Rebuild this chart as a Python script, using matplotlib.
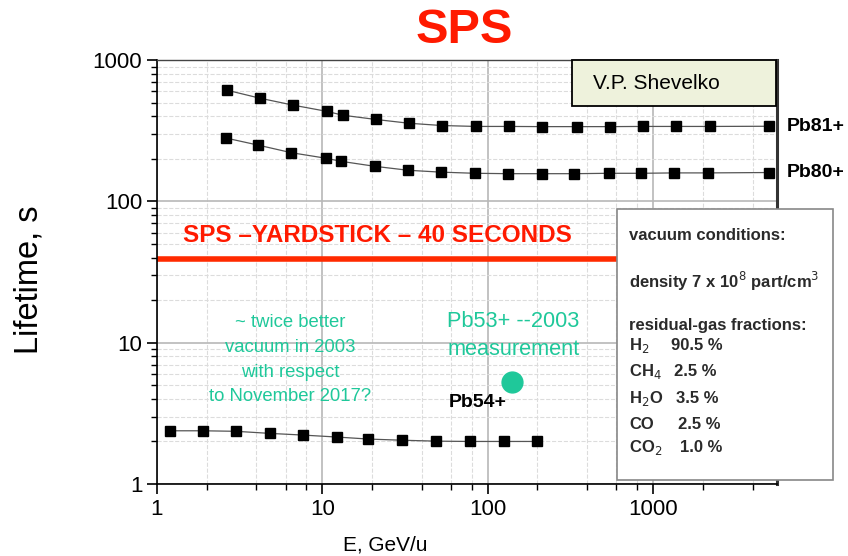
import numpy as np
import matplotlib
matplotlib.use("Agg")
import matplotlib.pyplot as plt
from matplotlib.patches import Rectangle
from matplotlib.ticker import LogLocator, FixedLocator, NullFormatter

plt.rcParams['font.family'] = ['Liberation Sans', 'DejaVu Sans']

# energies, GeV/u
E_pb81 = [2.65, 4.2, 6.7, 10.7, 13.3, 21, 33.5, 53, 85, 134, 214, 345, 550, 865, 1370, 2200, 5050]
E_pb80 = [2.6, 4.1, 6.5, 10.5, 13.0, 20.8, 33, 52, 84, 133, 212, 335, 540, 850, 1340, 2160, 5050]
E_pb54 = [1.2, 1.9, 3.0, 4.85, 7.6, 12.2, 19, 30.5, 49, 78, 125, 198]

# lifetimes, s
tau_pb81 = [612, 537, 479, 433, 407, 380, 357, 344, 339, 339, 338, 338, 338, 339, 339, 339, 340]
tau_pb80 = [281, 250, 221, 202, 192, 177, 166, 161, 158, 157, 157, 157, 158, 158, 159, 159, 160]
tau_pb54 = [2.38, 2.38, 2.36, 2.28, 2.22, 2.15, 2.08, 2.04, 2.01, 2.0, 2.0, 2.0]

# Pb53+ 2003 measurement
E_meas = 141
tau_meas = 5.3

yardstick = 39

gases = ['H$_{2}$', 'CH$_{4}$', 'H$_{2}$O', 'CO', 'CO$_{2}$']
fractions = ['90.5 %', '2.5 %', '3.5 %', '2.5 %', '1.0 %']

green = '#1fc89a'

fig = plt.figure(figsize=(8.48, 5.56), dpi=100)
ax = fig.add_axes([0.185, 0.1295, 0.731, 0.7625])
ax.set_xscale('log')
ax.set_yscale('log')
ax.set_xlim(1, 5600)
ax.set_ylim(1, 1000)

ax.grid(True, which='major', color='#b8b8b8', lw=1.2, ls='-')
ax.grid(True, which='minor', color='#dcdcdc', lw=0.8, ls='--')
ax.set_axisbelow(True)

for E, tau in [(E_pb81, tau_pb81), (E_pb80, tau_pb80), (E_pb54, tau_pb54)]:
    ax.plot(E, tau, color='#555555', lw=0.9, marker='s', ms=7,
            mfc='black', mec='black', zorder=3)

ax.axhline(yardstick, color='#ff2a00', lw=4, zorder=2)
ax.text(0.355, 0.585, 'SPS \u2013YARDSTICK \u2013 40 SECONDS', transform=ax.transAxes,
        color='#ff1a00', fontsize=17.5, fontweight='bold', ha='center', va='center')

ax.plot([E_meas], [tau_meas], 'o', ms=15, color=green, zorder=4)

ax.xaxis.set_major_locator(FixedLocator([1, 10, 100, 1000]))
ax.xaxis.set_minor_locator(LogLocator(base=10, subs=(2, 4, 6, 8)))
ax.xaxis.set_minor_formatter(NullFormatter())
ax.yaxis.set_minor_locator(LogLocator(base=10, subs=np.arange(2, 10)))
ax.yaxis.set_minor_formatter(NullFormatter())
ax.set_xticklabels(['1', '10', '100', '1000'])
ax.set_yticks([1, 10, 100, 1000])
ax.set_yticklabels(['1', '10', '100', '1000'])
ax.tick_params(which='major', direction='out', length=7, width=1.2, labelsize=16)
ax.tick_params(which='minor', direction='out', length=4, width=1)

for s in ['left', 'bottom']:
    ax.spines[s].set_linewidth(1.2)
ax.spines['top'].set_linewidth(1.0)
ax.spines['top'].set_color('#444444')
ax.spines['right'].set_linewidth(2.2)
ax.spines['right'].set_color('#333333')

fig.text(385 / 848, 1 - 545 / 556, 'E, GeV/u', fontsize=15, ha='center', va='center')
fig.text(29 / 848, 1 - 280 / 556, 'Lifetime, s', fontsize=23.5, rotation=90,
         ha='center', va='center')

fig.text(0.548, 0.945, 'SPS', color='#ff1a00', fontsize=35, fontweight='bold',
         ha='center', va='center')

# author box
fig.patches.append(Rectangle((0.675, 0.81), 0.240, 0.082, transform=fig.transFigure,
                             fc='#eef2dc', ec='black', lw=1.3, zorder=3))
fig.text(0.699, 0.849, 'V.P. Shevelko', fontsize=15, va='center', zorder=4)

fig.text(0.928, 0.772, 'Pb81+', fontsize=14, fontweight='bold', va='center')
fig.text(0.928, 0.69, 'Pb80+', fontsize=14, fontweight='bold', va='center')
ax.text(87, 3.8, 'Pb54+', fontsize=14, fontweight='bold', ha='center', va='center')

ax.text(0.215, 0.293, '~ twice better\nvacuum in 2003\nwith respect\nto November 2017?',
        transform=ax.transAxes, color=green, fontsize=13.3, ha='center', va='center',
        linespacing=1.6)
ax.text(0.575, 0.35, 'Pb53+ --2003\nmeasurement', transform=ax.transAxes,
        color=green, fontsize=15.7, ha='center', va='center', linespacing=1.45)

# vacuum conditions box
fig.patches.append(Rectangle((0.728, 0.137), 0.254, 0.487, transform=fig.transFigure,
                             fc='white', ec='#888888', lw=1.2, zorder=3))
box_kw = dict(fontsize=12, fontweight='bold', color='#2a2a2a', va='center', zorder=4)
fig.text(629 / 848, 0.577, 'vacuum conditions:', **box_kw)
fig.text(629 / 848, 0.493, r'density 7 x 10$^{8}$ part/cm$^{3}$', **box_kw)
fig.text(629 / 848, 0.415, 'residual-gas fractions:', **box_kw)
row_y = [0.378, 0.331, 0.283, 0.237, 0.196]
val_x = [671, 674, 676, 678, 680]
for g, f, yy, vx in zip(gases, fractions, row_y, val_x):
    fig.text(629 / 848, yy, g, **box_kw)
    fig.text(vx / 848, yy, f, **box_kw)

fig.savefig('out.png', dpi=100)
